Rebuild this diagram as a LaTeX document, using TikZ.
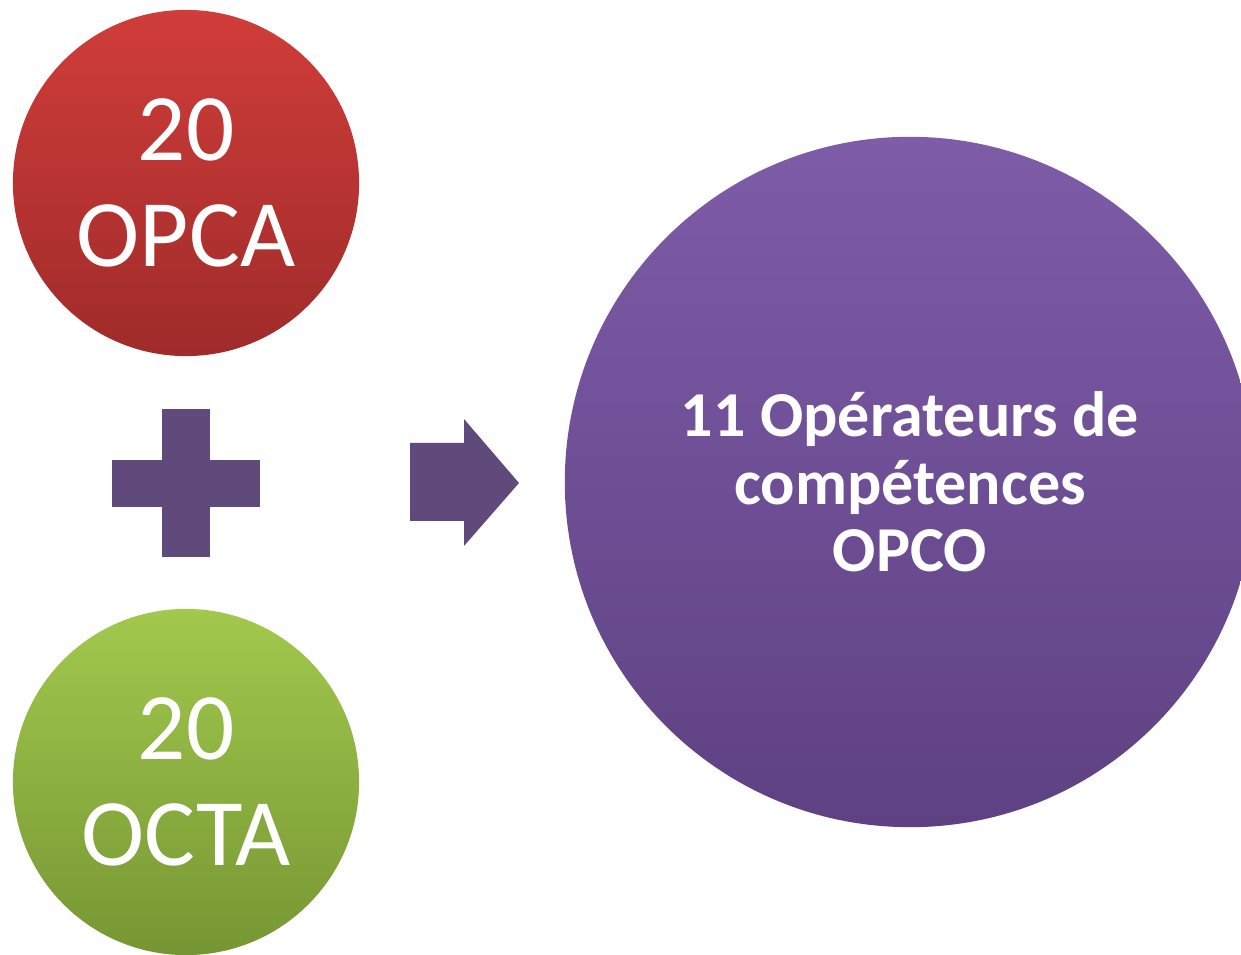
\documentclass[tikz,border=0pt]{standalone}
\usepackage{fontspec}
\setmainfont{Carlito}
\usetikzlibrary{shapes, arrows, positioning}

\definecolor{redtop}{HTML}{D03D3A}
\definecolor{redbot}{HTML}{9F2B2A}
\definecolor{greentop}{HTML}{A2C94D}
\definecolor{greenbot}{HTML}{769633}
\definecolor{purptop}{HTML}{7E5CA8}
\definecolor{purpbot}{HTML}{5E4182}
\definecolor{signfill}{HTML}{604A7B}

\begin{document}
\begin{tikzpicture}[x=0.01cm,y=-0.01cm,
		bubble/.style={circle,inner sep=0pt,minimum size=3.46cm,text=white,align=center,
			font=\fontsize{27.1}{30.2}\selectfont},
		big/.style={circle,inner sep=0pt,minimum size=6.9cm,text=white,align=center,
			font=\bfseries\fontsize{18.2}{19.2}\selectfont},
		sign/.style={fill=signfill}]
		\useasboundingbox (0,0) rectangle (1241,955);
		\clip (0,0) rectangle (1241,955);
		\node[bubble,top color=redtop,bottom color=redbot] (opca) at (186,183) {20\\OPCA};
		\node[bubble,top color=greentop,bottom color=greenbot] (octa) at (186,782) {20\\OCTA};
		\node[big,top color=purptop,bottom color=purpbot] (opco) at (910,482) {11 Opérateurs de\\compétences\\OPCO};
		% plus
		\coordinate (plus) at (186,483);
		\fill[sign] (162,409) rectangle (210,557);
		\fill[sign] (112,460) rectangle (260,507);
		% arrow
		\fill[sign] (410,443) -- (464,443) -- (464,419) -- (519,483)
			-- (464,546) -- (464,521) -- (410,521) -- cycle;
	\end{tikzpicture}
\end{document}
